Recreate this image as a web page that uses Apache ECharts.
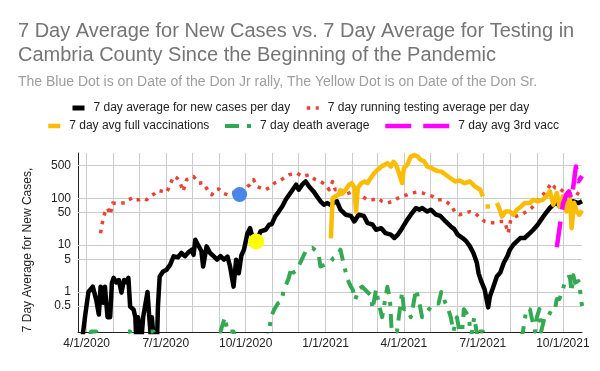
<!DOCTYPE html>
<html><head><meta charset="utf-8">
<script src="https://cdn.jsdelivr.net/npm/echarts@6/dist/echarts.min.js"></script>
<style>html,body{margin:0;padding:0;background:#fff}#c{width:600px;height:371px}</style>
</head><body><div id="c"></div>
<script>
const FONT = '"Liberation Sans", Arial, Helvetica, sans-serif';

const titleText = '7 Day Average for New Cases vs. 7 Day Average for Testing in\nCambria County Since the Beginning of the Pandemic';
const subtitleText = 'The Blue Dot is on Date of the Don Jr rally, The Yellow Dot is on Date of the Don Sr.';
const yAxisTitle = '7 Day Average for New Cases,';
const seriesNames = ['7 day average for new cases per day', '7 day running testing average per day', '7 day avg full vaccinations', '7 day death average', '7 day avg 3rd vacc'];

// y tick labels (log scale) and x tick labels
const yTicks = [0.5, 1, 5, 10, 50, 100, 500];
const xTickLabels = ['4/1/2020', '7/1/2020', '10/1/2020', '1/1/2021', '4/1/2021', '7/1/2021', '10/1/2021'];

// values below the axis bottom (0.1) stand for days with zero
const casesAvg = [
['2020-03-27',0.1],['2020-03-30',0.29],['2020-04-03',1.0],['2020-04-08',1.3],['2020-04-10',1.2],['2020-04-12',0.68],['2020-04-15',0.33],['2020-04-17',1.3],['2020-04-20',0.59],['2020-04-22',1.3],['2020-04-25',0.29],['2020-04-28',0.29],['2020-04-30',1.55],['2020-05-02',2.0],['2020-05-05',1.6],['2020-05-08',1.8],['2020-05-11',0.97],['2020-05-14',1.8],['2020-05-17',1.6],['2020-05-19',2.0],['2020-05-21',0.49],['2020-05-25',0.42],['2020-05-27',0.29],['2020-05-28',0.1],['2020-05-30',0.29],['2020-06-01',0.29],['2020-06-03',0.1],['2020-06-05',0.29],['2020-06-07',0.29],['2020-06-10',1.0],['2020-06-12',0.29],['2020-06-14',0.1],['2020-06-15',0.29],['2020-06-17',0.1],['2020-06-21',0.1],['2020-06-22',0.49],
['2020-06-24',2.15],['2020-06-28',2.75],['2020-07-02',3.0],['2020-07-06',3.8],['2020-07-10',5.75],['2020-07-15',5.5],['2020-07-19',6.8],['2020-07-23',5.8],['2020-07-27',7],['2020-07-31',8],['2020-08-02',6.2],['2020-08-04',13],['2020-08-07',10.2],['2020-08-11',7.5],['2020-08-13',3.5],['2020-08-17',9.4],['2020-08-21',6.8],['2020-08-25',5.8],['2020-08-29',4.9],['2020-09-02',5.8],['2020-09-06',4.9],['2020-09-10',5.7],['2020-09-13',3.5],['2020-09-17',1.3],['2020-09-20',4.9],['2020-09-23',2.5],['2020-09-26',6.0],['2020-09-29',8],['2020-10-03',18],['2020-10-06',23],['2020-10-09',14],['2020-10-13',11.7],['2020-10-18',19.6],['2020-10-24',21.3],['2020-10-28',27.3],['2020-10-31',28],['2020-11-04',41],['2020-11-08',52],['2020-11-12',67],['2020-11-16',93],['2020-11-20',119],['2020-11-24',152],['2020-11-28',195],['2020-12-01',152],['2020-12-05',195],['2020-12-09',228],['2020-12-13',178],['2020-12-18',140],['2020-12-22',110],['2020-12-26',86],['2020-12-30',73],
['2021-01-03',79],['2021-01-06',73],['2021-01-08',79],['2021-01-14',86],['2021-01-18',57],['2021-01-24',44.6],['2021-01-30',42],['2021-02-03',32],['2021-02-08',44.6],['2021-02-14',42],['2021-02-18',30],['2021-02-24',27.3],['2021-02-28',21.3],['2021-03-06',23],['2021-03-11',18],['2021-03-17',16.7],['2021-03-21',14.2],['2021-03-25',16.7],['2021-03-30',23],['2021-04-05',35],['2021-04-09',44.6],['2021-04-15',62],['2021-04-19',57],['2021-04-22',62],['2021-04-28',52],['2021-05-02',57],['2021-05-08',44.6],['2021-05-13',42],['2021-05-19',32],['2021-05-25',25],['2021-05-29',22],['2021-06-02',16.7],['2021-06-08',14],['2021-06-12',12],['2021-06-16',9.4],['2021-06-20',6.8],['2021-06-24',4.2],['2021-06-26',2.5],['2021-06-29',1.7],['2021-07-03',1.12],['2021-07-07',0.47],['2021-07-09',0.8],['2021-07-13',1.3],['2021-07-17',2.15],['2021-07-21',2.6],['2021-07-25',4.2],['2021-07-29',5.75],['2021-08-01',8],['2021-08-05',10.2],['2021-08-09',12],['2021-08-13',14.2],['2021-08-18',14.2],['2021-08-24',18],['2021-08-28',21.3],['2021-09-02',27.3],['2021-09-06',35],['2021-09-10',44.6],['2021-09-16',62],['2021-09-20',73],['2021-09-24',79],['2021-09-27',68],['2021-10-01',93],['2021-10-07',86],['2021-10-13',86],['2021-10-19',79],['2021-10-23',86]
];

const testingAvg = [
['2020-04-17',18],['2020-04-19',30],['2020-04-22',50],['2020-04-25',62],['2020-04-28',44.6],['2020-05-01',79],['2020-05-05',77],['2020-05-11',79],['2020-05-15',79],['2020-05-19',93],['2020-05-25',104],['2020-05-28',93],['2020-06-01',93],['2020-06-05',100],['2020-06-09',93],['2020-06-13',110],['2020-06-18',125],['2020-06-22',147],['2020-06-28',140],['2020-07-02',133],['2020-07-06',195],['2020-07-10',292],['2020-07-14',270],['2020-07-17',228],['2020-07-21',140],['2020-07-25',250],['2020-08-02',292],['2020-08-08',210],['2020-08-13',215],['2020-08-18',152],['2020-08-23',119],['2020-08-27',152],['2020-08-31',158],['2020-09-04',130],['2020-09-10',119],['2020-09-15',135],['2020-09-24',125],['2020-10-03',178],['2020-10-06',195],['2020-10-10',250],['2020-10-14',178],['2020-10-18',166],['2020-10-24',152],['2020-10-30',178],['2020-11-03',210],['2020-11-08',228],['2020-11-14',270],['2020-11-20',318],['2020-11-26',335],['2020-11-29',345],['2020-12-05',292],['2020-12-13',318],['2020-12-20',250],['2020-12-26',228],
['2021-01-01',195],['2021-01-05',152],['2021-01-09',228],['2021-01-12',152],['2021-01-18',160],['2021-01-22',119],['2021-01-26',125],['2021-02-01',140],['2021-02-06',119],['2021-02-12',110],['2021-02-18',93],['2021-02-24',93],['2021-03-02',100],['2021-03-07',86],['2021-03-13',79],['2021-03-19',86],['2021-03-25',100],['2021-03-30',110],['2021-04-05',119],['2021-04-11',130],['2021-04-16',135],['2021-04-22',130],['2021-04-28',119],['2021-05-04',110],['2021-05-10',93],['2021-05-16',93],['2021-05-22',79],['2021-05-26',68],['2021-05-30',50],['2021-06-04',44.6],['2021-06-10',48],['2021-06-16',52],['2021-06-22',48],['2021-06-28',38],['2021-07-03',32],['2021-07-09',30],['2021-07-15',30],['2021-07-20',32],['2021-07-26',32],['2021-07-30',18],['2021-08-02',35],['2021-08-08',41],['2021-08-14',44.6],['2021-08-20',52],['2021-08-26',62],['2021-08-31',79],['2021-09-06',110],['2021-09-10',130],['2021-09-14',166],['2021-09-18',210],['2021-09-22',166],['2021-09-27',166],['2021-10-03',130],['2021-10-09',125],['2021-10-14',140],['2021-10-20',119],['2021-10-23',125]
];

const fullVaccAvg = [
['2021-01-07',14],['2021-01-09',100],['2021-01-12',110],['2021-01-16',119],['2021-01-18',150],['2021-01-20',125],['2021-01-24',152],['2021-01-28',195],['2021-01-31',210],['2021-02-03',170],['2021-02-05',52],['2021-02-07',166],['2021-02-11',210],['2021-02-15',228],['2021-02-18',210],['2021-02-22',270],['2021-02-26',345],['2021-03-02',407],['2021-03-06',475],['2021-03-10',520],['2021-03-13',560],['2021-03-17',475],['2021-03-20',600],['2021-03-23',520],['2021-03-27',318],['2021-03-30',210],['2021-04-01',440],['2021-04-05',520],['2021-04-09',780],['2021-04-13',840],['2021-04-17',780],['2021-04-20',665],['2021-04-24',620],['2021-04-28',475],['2021-05-02',450],['2021-05-06',407],['2021-05-10',380],['2021-05-14',370],['2021-05-18',330],['2021-05-22',292],['2021-05-24',270],['2021-05-30',228],['2021-06-04',240],['2021-06-10',210],['2021-06-16',228],['2021-06-22',178],['2021-06-28',152],['2021-07-01',110],['2021-07-02',null],['2021-07-04',67],['2021-07-09',67],['2021-07-10',null],['2021-07-17',79],['2021-07-19',67],['2021-07-23',41],['2021-07-27',52],['2021-08-01',52],['2021-08-05',44.6],['2021-08-09',57],['2021-08-14',67],['2021-08-18',79],['2021-08-24',79],['2021-08-28',93],['2021-09-02',86],['2021-09-08',93],['2021-09-12',110],['2021-09-16',140],['2021-09-20',73],['2021-09-24',130],['2021-09-27',67],['2021-10-01',110],['2021-10-05',52],['2021-10-09',110],['2021-10-11',23],['2021-10-14',80],['2021-10-17',52],['2021-10-20',44.6],['2021-10-23',55]
];

const deathAvg = [
['2020-04-04',0.1],['2020-04-06',0.143],['2020-04-12',0.143],['2020-04-14',0.1],['2020-05-14',0.1],['2020-05-16',0.143],['2020-05-21',0.143],['2020-05-23',0.1],['2020-06-09',0.1],['2020-06-11',0.143],['2020-06-17',0.143],['2020-06-19',0.1],['2020-08-26',0.1],['2020-08-28',0.143],['2020-09-02',0.143],['2020-09-07',0.29],['2020-09-10',0.143],['2020-09-17',0.143],['2020-09-19',0.1],['2020-10-26',0.1],['2020-10-28',0.143],['2020-10-30',0.29],['2020-11-03',0.43],['2020-11-07',0.57],['2020-11-11',0.63],['2020-11-14',1.14],['2020-11-19',1.86],['2020-11-23',3.4],['2020-11-25',2.6],['2020-11-29',3.0],['2020-12-03',4.3],['2020-12-09',7.4],['2020-12-13',8],['2020-12-17',8.7],['2020-12-21',7.5],['2020-12-24',6.2],['2020-12-26',3.5],['2020-12-31',3.8],
['2021-01-07',4.5],['2021-01-10',5.3],['2021-01-14',5.8],['2021-01-18',8],['2021-01-22',3.8],['2021-01-26',1.9],['2021-01-30',1.3],['2021-02-01',1.14],['2021-02-04',0.68],['2021-02-08',1.14],['2021-02-12',1.3],['2021-02-18',1.0],['2021-02-22',0.86],['2021-02-24',0.43],['2021-02-28',1.14],['2021-03-03',0.57],['2021-03-07',0.29],['2021-03-13',1.29],['2021-03-16',0.71],['2021-03-18',0.143],['2021-03-24',0.143],['2021-03-30',1.0],['2021-04-01',0.43],['2021-04-05',0.43],['2021-04-09',0.29],['2021-04-11',0.43],['2021-04-15',1.14],['2021-04-19',0.57],['2021-04-22',0.29],['2021-04-24',0.29],['2021-04-30',0.43],['2021-05-06',0.57],['2021-05-11',0.57],['2021-05-14',1.0],['2021-05-19',0.57],['2021-05-22',0.43],['2021-05-25',0.29],['2021-05-28',0.143],['2021-06-01',0.29],['2021-06-04',0.143],['2021-06-07',0.143],['2021-06-09',0.43],['2021-06-15',0.29],['2021-06-17',0.1],['2021-06-21',0.29],['2021-06-25',0.1],['2021-06-28',0.143],['2021-07-01',0.143],['2021-07-03',0.1],['2021-08-14',0.1],['2021-08-16',0.143],['2021-08-20',0.43],['2021-08-24',0.43],['2021-08-26',0.29],['2021-08-30',0.143],['2021-09-01',0.29],['2021-09-04',0.43],['2021-09-06',0.143],['2021-09-10',0.29],['2021-09-14',0.29],['2021-09-18',0.43],['2021-09-22',0.43],['2021-09-24',0.71],['2021-09-27',0.71],['2021-10-01',1.14],['2021-10-03',1.57],['2021-10-05',2.0],['2021-10-07',1.86],['2021-10-09',2.14],['2021-10-11',1.0],['2021-10-13',2.29],['2021-10-15',1.57],['2021-10-17',1.57],['2021-10-19',1.71],['2021-10-21',1.0],['2021-10-23',0.5]
];

const thirdVaccAvg = [
['2021-09-24',9],['2021-09-29',40],['2021-10-01',75],['2021-10-05',120],['2021-10-08',140],['2021-10-11',95],['2021-10-13',180],['2021-10-16',475],['2021-10-19',230],['2021-10-23',300]
];

const blueDot = [['2020-09-24', 120]];
const yellowDot = [['2020-10-13', 12]];

const chart = echarts.init(document.getElementById('c'), null, {renderer: 'canvas'});

function legendAt(name, left, top, width, lineWidth) {
  return {
    data: [name], left: left, top: top, padding: 0, orient: 'horizontal',
    itemWidth: width, itemHeight: 14, selectedMode: false,
    itemStyle: {opacity: 0},
    lineStyle: {width: lineWidth},
    textStyle: {fontFamily: FONT, fontSize: 12, color: '#222222', padding: [0, 0, 0, 4]}
  };
}

function lineSeries(name, data, color, width, type, z) {
  return {
    name: name, type: 'line', data: data, symbol: 'none', showSymbol: false,
    connectNulls: false, clip: true, z: z,
    lineStyle: {color: color, width: width, type: type, join: 'round'},
    itemStyle: {color: color},
    emphasis: {disabled: true}
  };
}

const cases = lineSeries(seriesNames[0], casesAvg, '#000000', 4.5, 'solid', 3);
cases.markLine = {
  silent: true, symbol: ['none', 'none'], z: 1, animation: false,
  lineStyle: {color: '#cccccc', width: 1, type: 'solid'},
  label: {position: 'start', distance: 7, color: '#222222', fontSize: 12, fontFamily: FONT,
          formatter: function (p) { return String(p.value); }},
  emphasis: {disabled: true},
  data: yTicks.map(function (v) { return {yAxis: v}; })
};

const option = {
  animation: false,
  backgroundColor: '#ffffff',
  title: {
    text: titleText, subtext: subtitleText, left: 18, top: 19, padding: 0, itemGap: 7,
    textStyle: {fontFamily: FONT, fontSize: 20, lineHeight: 24, fontWeight: 'normal', color: '#757575'},
    subtextStyle: {fontFamily: FONT, fontSize: 14, lineHeight: 16, color: '#9e9e9e'}
  },
  legend: [
    legendAt(seriesNames[0], 70, 102, 12, 5),
    legendAt(seriesNames[1], 305, 102, 12, 3.5),
    legendAt(seriesNames[2], 46, 120, 12, 4.5),
    legendAt(seriesNames[3], 223, 120, 26, 4),
    legendAt(seriesNames[4], 383, 120, 64, 4.5)
  ],
  grid: {left: 78, right: 18, top: 153, bottom: 39},
  xAxis: {
    type: 'time', min: '2020-03-22', max: '2021-10-23',
    maxInterval: 40 * 86400000,
    axisLine: {show: true, lineStyle: {color: '#222222', width: 1}},
    axisTick: {show: false},
    splitLine: {show: true, showMinLine: false, showMaxLine: false, lineStyle: {color: '#cccccc', width: 1}},
    axisLabel: {
      fontFamily: FONT, fontSize: 12, color: '#222222', margin: 6,
      showMinLabel: false, showMaxLabel: false, hideOverlap: false,
      formatter: function (value) {
        const d = new Date(value);
        const s = (d.getMonth() + 1) + '/' + d.getDate() + '/' + d.getFullYear();
        return xTickLabels.indexOf(s) >= 0 ? s : '';
      }
    }
  },
  yAxis: {
    type: 'log', logBase: 10, min: 0.14, max: 925,
    name: yAxisTitle, nameLocation: 'middle', nameGap: 44,
    nameTextStyle: {fontFamily: FONT, fontSize: 12, color: '#222222', padding: [0, 15, 0, 0]},
    axisLine: {show: true, lineStyle: {color: '#222222', width: 1}},
    axisTick: {show: false},
    axisLabel: {show: false},
    splitLine: {show: false},
    minorSplitLine: {show: false}
  },
  series: [
    cases,
    lineSeries(seriesNames[1], testingAvg, '#ea4335', 3.5, [3.5, 5.5], 4),
    lineSeries(seriesNames[2], fullVaccAvg, '#fbbc04', 4.5, 'solid', 5),
    lineSeries(seriesNames[3], deathAvg, '#34a853', 4, [14, 8, 4, 8], 6),
    lineSeries(seriesNames[4], thirdVaccAvg, '#ff00ff', 4.5, [26, 12], 7),
    {type: 'scatter', data: blueDot, symbolSize: 15, z: 8, itemStyle: {color: '#4a86e8', opacity: 1}, emphasis: {disabled: true}},
    {type: 'scatter', data: yellowDot, symbolSize: 16, z: 8, itemStyle: {color: '#ffff00', opacity: 1}, emphasis: {disabled: true}}
  ]
};
chart.setOption(option);
</script>
</body></html>
